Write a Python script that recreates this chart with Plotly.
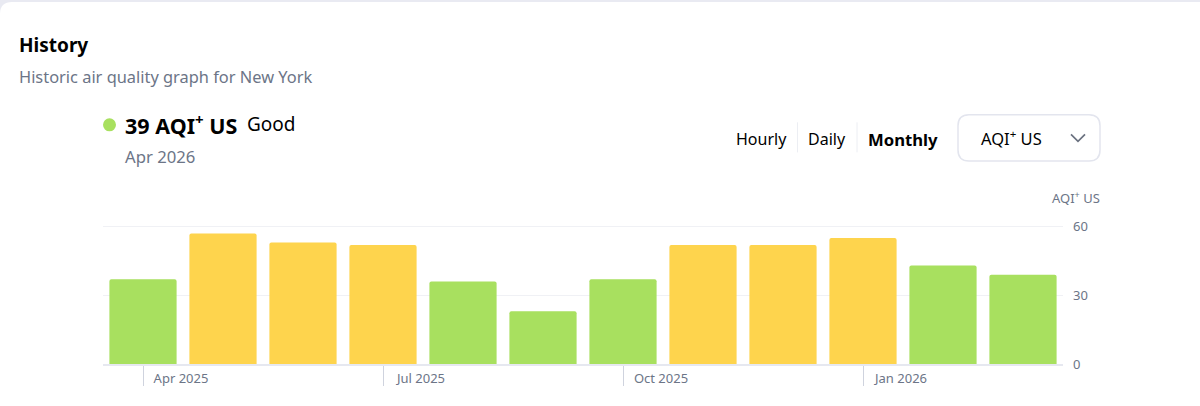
import plotly.graph_objects as go

WIDTH = 1200
HEIGHT = 406
LEFT = 103
RIGHT = 1063
TOP = 222.4
BOTTOM = 364

months = ["Apr 2025", "May 2025", "Jun 2025", "Jul 2025", "Aug 2025", "Sep 2025",
          "Oct 2025", "Nov 2025", "Dec 2025", "Jan 2026", "Feb 2026", "Mar 2026"]
aqi_values = [37, 57, 53, 52, 36, 23, 37, 52, 52, 55, 43, 39]
y_ticks = [0, 30, 60]
x_ticks = ["Apr 2025", "Jul 2025", "Oct 2025", "Jan 2026"]

GREEN = "#a8e05f"
YELLOW = "#fed44d"
GREY_TEXT = "#6c7587"
FONT = "Noto Sans"


def px(x):
    return (x - LEFT) / (RIGHT - LEFT)


def py(y):
    return (BOTTOM - y) / (BOTTOM - TOP)


def label(text, x, y, size, color="#000000", anchor="left", weight="normal"):
    # annotations carry a small inner padding, hence the 2px
    x = x - 2 if anchor == "left" else x + 2
    fig.add_annotation(text=text, x=px(x), y=py(y), xref="paper", yref="paper",
                       xanchor=anchor, yanchor="middle", showarrow=False,
                       font=dict(family=FONT, size=size, color=color, weight=weight))


bar_colors = [GREEN if v <= 50 else YELLOW for v in aqi_values]

fig = go.Figure()
fig.add_trace(go.Bar(
    x=months,
    y=aqi_values,
    marker=dict(color=bar_colors, cornerradius=2, line=dict(width=0)),
    width=0.84,
))

# card outline at the top of the page
card = (f"M {px(0)} {py(HEIGHT)} L {px(0)} {py(15)} Q {px(0)} {py(3)} {px(12)} {py(3)} "
        f"L {px(1200)} {py(3)} L {px(1200)} {py(HEIGHT)} Z")
fig.add_shape(type="path", path=card, xref="paper", yref="paper",
              fillcolor="#ffffff", line_width=0, layer="below")

# dot next to the current value
fig.add_shape(type="circle", xref="paper", yref="paper",
              x0=px(103), x1=px(116), y0=py(132), y1=py(119),
              fillcolor=GREEN, line_width=0)

# dropdown box and its chevron
box = (f"M {px(969)} {py(115.5)} L {px(1089)} {py(115.5)} Q {px(1100)} {py(115.5)} {px(1100)} {py(126.5)} "
       f"L {px(1100)} {py(150.5)} Q {px(1100)} {py(161.5)} {px(1089)} {py(161.5)} L {px(969)} {py(161.5)} "
       f"Q {px(958)} {py(161.5)} {px(958)} {py(150.5)} L {px(958)} {py(126.5)} Q {px(958)} {py(115.5)} {px(969)} {py(115.5)} Z")
fig.add_shape(type="path", path=box, xref="paper", yref="paper",
              line=dict(color="#e3e5ee", width=1.5), fillcolor="#ffffff")
chevron = f"M {px(1071)} {py(135)} L {px(1078)} {py(142)} L {px(1085)} {py(135)}"
fig.add_shape(type="path", path=chevron, xref="paper", yref="paper",
              line=dict(color="#6b7280", width=1.7))

# separators between the period buttons
for sep_x in [797.5, 857]:
    fig.add_shape(type="line", xref="paper", yref="paper",
                  x0=px(sep_x), x1=px(sep_x), y0=py(123), y1=py(153),
                  line=dict(color="#eceef3", width=1))

label("History", 19, 46, 19, weight="bold")
label("Historic air quality graph for New York", 19, 77, 16.4, GREY_TEXT)
label("39 AQI<sup>+</sup> US", 125, 125.5, 21.5, weight="bold")
label("Good", 247, 125, 19)
label("Apr 2026", 125, 157, 16.7, GREY_TEXT)
label("Hourly", 736, 140, 16)
label("Daily", 808, 140, 16)
label("Monthly", 868, 140, 16.7, weight="bold")
label("AQI<sup>+</sup> US", 981, 139, 16.5)
label("AQI<sup>+</sup> US", 1100, 198, 13, GREY_TEXT, anchor="right")

fig.update_layout(
    width=WIDTH,
    height=HEIGHT,
    margin=dict(l=LEFT, r=WIDTH - RIGHT, t=TOP, b=HEIGHT - BOTTOM, autoexpand=False),
    paper_bgcolor="#e9eaf2",
    plot_bgcolor="rgba(0,0,0,0)",
    showlegend=False,
    font=dict(family=FONT, color=GREY_TEXT, size=13),
    bargap=0.16,
)
fig.update_xaxes(
    type="category",
    categoryorder="array",
    categoryarray=months,
    tickmode="array",
    tickvals=x_ticks,
    ticktext=x_ticks,
    ticks="outside",
    ticklen=20,
    tickcolor="#cfd3de",
    tickwidth=1,
    ticklabelshift=38,
    ticklabelstandoff=-19,
    showgrid=False,
    showline=True,
    linecolor="#e6e8f0",
    linewidth=2,
    zeroline=False,
)
# range goes a little past 60 so the top gridline is still drawn
fig.update_yaxes(
    side="right",
    range=[0, 62],
    tickmode="array",
    tickvals=y_ticks,
    ticks="",
    ticklabelstandoff=9,
    showgrid=True,
    gridcolor="#f0f1f5",
    gridwidth=1,
    zeroline=False,
    showline=False,
)

# the page has a default body margin, the chart has to sit in the corner
fig.write_html("out.html", config={"displayModeBar": False},
               post_script="document.body.style.margin='0';document.documentElement.style.overflow='hidden';")
